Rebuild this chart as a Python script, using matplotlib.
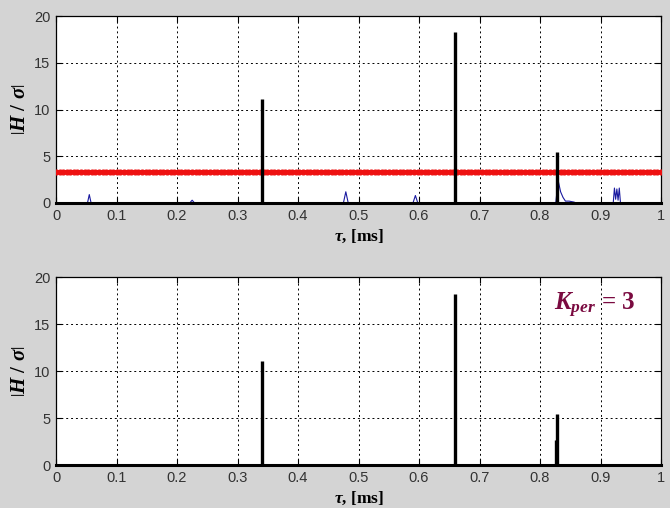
import numpy as np
import matplotlib.pyplot as plt

# ── data ─────────────────────────────────────────────────────────────────────
spike_tau_top = [0.341, 0.659, 0.828]
spike_h_top = [11.1, 18.3, 5.5]
spike_tau_bot = [0.341, 0.659, 0.826, 0.828]
spike_h_bot = [11.1, 18.2, 2.7, 5.4]

# small blue noise bumps (top panel only)
noise_tau = [0.0, 0.052, 0.055, 0.058, 0.221, 0.225, 0.229, 0.475, 0.479, 0.483,
             0.590, 0.594, 0.598, 0.826, 0.830, 0.834, 0.838, 0.842, 0.848, 0.856,
             0.860, 0.921, 0.923, 0.925, 0.927, 0.929, 0.931, 0.933, 1.0]
noise_val = [0.0, 0.0, 0.9, 0.0, 0.0, 0.3, 0.0, 0.0, 1.2, 0.0,
             0.0, 0.8, 0.0, 0.0, 2.4, 1.2, 0.6, 0.2, 0.2, 0.1,
             0.0, 0.0, 1.6, 0.4, 1.5, 0.3, 1.6, 0.0, 0.0]

threshold = 3.3
thr_tau = np.linspace(0, 1, 170)

xticks = [0, 0.1, 0.2, 0.3, 0.4, 0.5, 0.6, 0.7, 0.8, 0.9, 1]
xticklabels = ['0', '0.1', '0.2', '0.3', '0.4', '0.5', '0.6', '0.7', '0.8', '0.9', '1']
yticks = [0, 5, 10, 15, 20]

plt.rcParams['mathtext.fontset'] = 'custom'
plt.rcParams['mathtext.it'] = 'Liberation Serif:italic:bold'
plt.rcParams['mathtext.rm'] = 'Liberation Serif:bold'
plt.rcParams['mathtext.bf'] = 'Liberation Serif:bold'

bg = '#d4d4d4'
fig = plt.figure(figsize=(6.7, 5.08), dpi=100, facecolor=bg)
ax1 = fig.add_axes([0.0836, 0.6004, 0.903, 0.368])
ax2 = fig.add_axes([0.0836, 0.0846, 0.903, 0.370])


def style(ax):
    ax.set_xlim(0, 1)
    ax.set_ylim(0, 20)
    ax.set_xticks(xticks)
    ax.set_xticklabels(xticklabels)
    ax.set_yticks(yticks)
    ax.tick_params(direction='in', length=4, width=0.8, labelsize=10.5,
                   top=True, right=True, pad=4)
    for lab in ax.get_xticklabels() + ax.get_yticklabels():
        lab.set_fontfamily('Liberation Sans')
        lab.set_color('#333333')
    ax.grid(True, color='black', linestyle=(0, (2, 3)), linewidth=0.7)
    ax.set_axisbelow(True)
    for s in ax.spines.values():
        s.set_linewidth(0.9)
    ax.set_xlabel(r'$\tau$, [ms]', fontsize=12.5, fontweight='bold',
                  family='Liberation Serif', labelpad=4)
    ax.set_ylabel(r'$\left|H\ /\ \sigma\right|$', fontsize=15, labelpad=4)


# top panel
ax1.plot(noise_tau, noise_val, color='#1a1aa0', linewidth=0.8, zorder=3)
ax1.plot(thr_tau, np.full_like(thr_tau, threshold), color='#ee1111',
         linewidth=2.8, marker='o', markersize=3.4, zorder=4)
ax1.plot([0, 1], [0, 0], color='black', linewidth=2.2, zorder=5, clip_on=False)
ax1.vlines(spike_tau_top, 0, spike_h_top, color='black', linewidth=2.4, zorder=5)
style(ax1)

# bottom panel
ax2.plot([0, 1], [0, 0], color='black', linewidth=2.2, zorder=5, clip_on=False)
ax2.vlines(spike_tau_bot, 0, spike_h_bot, color='black', linewidth=2.4, zorder=5)
ax2.text(0.823, 17.0, r'$K_{per}$ = 3', color='#7a0a40', fontsize=18,
         fontweight='bold', family='Liberation Serif', ha='left', va='center')
style(ax2)

fig.savefig('out.png', dpi=100, facecolor=bg)
